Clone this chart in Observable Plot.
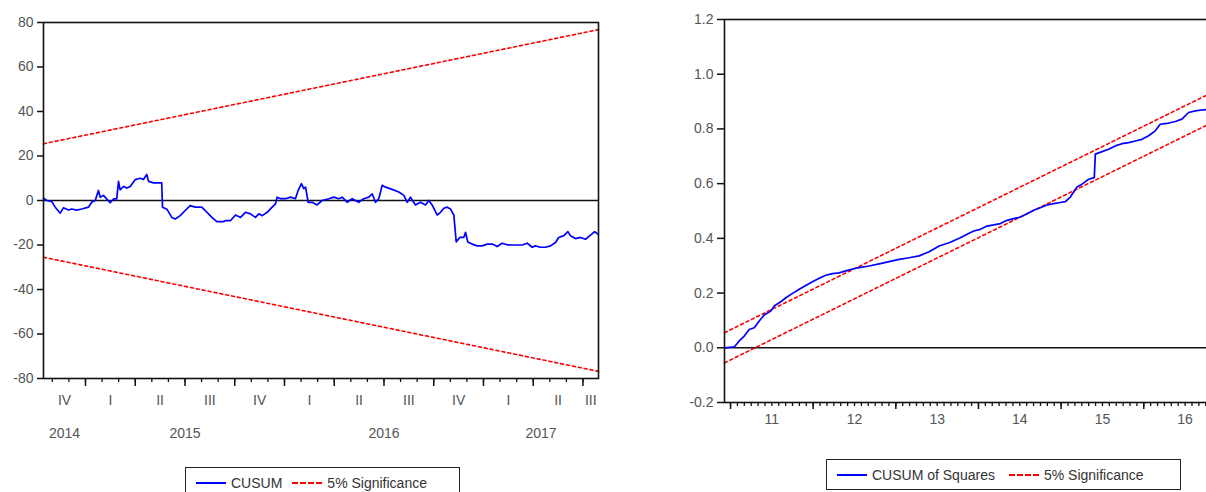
<!DOCTYPE html>
<html>
<head>
<meta charset="utf-8">
<script src="https://cdn.jsdelivr.net/npm/d3@7"></script>
<script src="https://cdn.jsdelivr.net/npm/@observablehq/plot@0.6"></script>
<style>
html, body { margin: 0; padding: 0; background: #fff; overflow: hidden; }
#wrap { position: relative; width: 1206px; height: 492px; overflow: hidden; background: #fff;
  font-family: "Liberation Sans", Arial, sans-serif; }
#left { position: absolute; left: 0; top: 0; width: 620px; height: 450px; }
#right { position: absolute; left: 640px; top: 0; width: 648px; height: 450px; }
#wrap svg { max-width: none !important; height: 450px !important; }
.legend { position: absolute; box-sizing: border-box; border: 1.5px solid #222; background: #fff;
  display: flex; align-items: center; font-size: 14px; color: #333; white-space: nowrap; }
.legend .sw { display: inline-block; width: 30px; height: 0; margin: 0 5px 0 10px; }
.legend .blue { border-top: 2px solid #0000ff; }
.legend .red { border-top: 2px dashed #ff0000; }
</style>
</head>
<body>
<div id="wrap">
  <div id="left"></div>
  <div id="right"></div>
  <div class="legend" style="left:185px; top:467px; width:275px; height:32px;">
    <span class="sw blue"></span><span>CUSUM</span>
    <span class="sw red"></span><span>5% Significance</span>
  </div>
  <div class="legend" style="left:826px; top:459px; width:355px; height:31px;">
    <span class="sw blue"></span><span>CUSUM of Squares</span>
    <span class="sw red" style="margin-left:14px"></span><span>5% Significance</span>
  </div>
</div>
<script>
// ---------- Left panel: CUSUM (time as decimal year) ----------
const cusumT = [2014.789, 2014.806, 2014.831, 2014.848, 2014.873, 2014.889, 2014.915, 2014.931, 2014.956, 2014.981,
  2015.015, 2015.032, 2015.049, 2015.065, 2015.074, 2015.090, 2015.107, 2015.124, 2015.141, 2015.157,
  2015.166, 2015.174, 2015.191, 2015.208, 2015.225, 2015.250, 2015.275, 2015.291, 2015.308, 2015.317,
  2015.342, 2015.383, 2015.387, 2015.409, 2015.434, 2015.451, 2015.476, 2015.501, 2015.526, 2015.551,
  2015.584, 2015.602, 2015.635, 2015.660, 2015.693, 2015.704, 2015.729, 2015.754, 2015.779, 2015.804,
  2015.829, 2015.854, 2015.871, 2015.888, 2015.913, 2015.938, 2015.955, 2015.963, 2015.980, 2016.005,
  2016.030, 2016.055, 2016.069, 2016.085, 2016.097, 2016.106, 2016.119, 2016.139, 2016.164, 2016.189,
  2016.223, 2016.248, 2016.273, 2016.290, 2016.315, 2016.340, 2016.373, 2016.398, 2016.424, 2016.441,
  2016.457, 2016.474, 2016.491, 2016.508, 2016.541, 2016.574, 2016.600, 2016.617, 2016.633, 2016.658,
  2016.683, 2016.709, 2016.725, 2016.742, 2016.767, 2016.784, 2016.801, 2016.818, 2016.834, 2016.851,
  2016.863, 2016.881, 2016.901, 2016.910, 2016.921, 2016.943, 2016.968, 2016.993, 2017.019, 2017.044,
  2017.069, 2017.094, 2017.119, 2017.144, 2017.169, 2017.194, 2017.220, 2017.245, 2017.261, 2017.286,
  2017.312, 2017.337, 2017.362, 2017.378, 2017.404, 2017.424, 2017.437, 2017.462, 2017.487, 2017.513,
  2017.538, 2017.559, 2017.573];
const cusumV = [1, 0, -0.5, -3, -5.7, -3.3, -4.3, -3.8, -4.3, -3.8,
  -3, -0.7, 0, 4.5, 1.5, 2.3, 0.7, -1, 0.7, 0.7,
  8.6, 4.8, 6.3, 5.6, 6.3, 9.4, 10, 9.4, 11.7, 8.6,
  7.9, 7.9, -3, -3.9, -7.6, -8.3, -6.8, -4.5, -2.3, -3,
  -3, -4.5, -7.6, -9.5, -9.5, -9, -9, -6.5, -7.6, -5.3,
  -6, -7.6, -6, -6.8, -5.3, -3, -1.5, 1.5, 0.8, 0.8,
  1.5, 0.8, 4.6, 7.6, 5.3, 6, -0.8, -0.8, -2, 0,
  0.8, 1.5, 0.8, 1.5, -0.8, 0.8, -0.8, 0.8, 1.5, 3,
  -0.8, 0.8, 6.8, 6, 5, 3.8, 2.3, -0.8, 1.5, -2,
  -0.8, -2, 0, -2, -6.5, -5.3, -3.5, -3, -3.8, -6.5,
  -18.6, -16.6, -16.6, -14.3, -18.6, -19.6, -20.4, -20.4, -19.6, -19.6,
  -20.7, -19.2, -19.9, -20, -20, -20, -19.2, -21, -20.4, -21,
  -21, -20.4, -18.9, -16.6, -15.8, -14, -15.8, -17.1, -16.6, -17.4,
  -15.6, -14, -15];
const cusumSigT = [2014.789, 2017.578];
const cusumSigUpper = [25.5, 76.8];
const cusumSigLower = [-25.5, -76.8];
const leftDomain = [2014.789, 2017.578];
const leftYTicks = [-80, -60, -40, -20, 0, 20, 40, 60, 80];
const quarterLabels = ["IV", "I", "II", "III", "IV", "I", "II", "III", "IV", "I", "II", "III"];
const quarterStarts = [2014.75, 2015, 2015.25, 2015.5, 2015.75, 2016, 2016.25, 2016.5, 2016.75, 2017, 2017.25, 2017.5];
const leftYearLabels = ["2014", "2015", "2016", "2017"];
const leftYearStarts = [2014, 2015, 2016, 2017];

// ---------- Right panel: CUSUM of Squares ----------
const sqT = [2010.927, 2011.045, 2011.105, 2011.166, 2011.226, 2011.287, 2011.347, 2011.407, 2011.487, 2011.528,
  2011.608, 2011.669, 2011.746, 2011.831, 2011.911, 2011.992, 2012.073, 2012.152, 2012.233, 2012.314,
  2012.394, 2012.475, 2012.556, 2012.677, 2012.798, 2012.919, 2013.040, 2013.161, 2013.282, 2013.403,
  2013.524, 2013.645, 2013.781, 2013.862, 2013.942, 2014.023, 2014.104, 2014.184, 2014.265, 2014.346,
  2014.426, 2014.507, 2014.588, 2014.667, 2014.748, 2014.829, 2014.909, 2014.990, 2015.051, 2015.111,
  2015.192, 2015.253, 2015.333, 2015.401, 2015.414, 2015.495, 2015.574, 2015.655, 2015.736, 2015.816,
  2015.897, 2015.978, 2016.058, 2016.139, 2016.199, 2016.280, 2016.381, 2016.462, 2016.542, 2016.623,
  2016.724, 2016.805];
const sqV = [0, 0.003, 0.025, 0.043, 0.067, 0.073, 0.098, 0.12, 0.134, 0.153,
  0.168, 0.183, 0.198, 0.214, 0.228, 0.241, 0.254, 0.265, 0.271, 0.274,
  0.281, 0.288, 0.293, 0.299, 0.307, 0.315, 0.323, 0.329, 0.336, 0.351,
  0.372, 0.384, 0.402, 0.415, 0.427, 0.433, 0.445, 0.449, 0.454, 0.466,
  0.472, 0.478, 0.49, 0.503, 0.512, 0.522, 0.527, 0.531, 0.534, 0.551,
  0.588, 0.598, 0.616, 0.622, 0.708, 0.717, 0.726, 0.738, 0.746, 0.75,
  0.756, 0.762, 0.775, 0.793, 0.817, 0.82, 0.827, 0.836, 0.86, 0.866,
  0.87, 0.872];
const sqSigT = [2010.927, 2016.805];
const sqSigUpper = [0.055, 0.93];
const sqSigLower = [-0.055, 0.82];
const rightDomain = [2010.927, 2017.63];
const rightYTicks = [-0.2, 0.0, 0.2, 0.4, 0.6, 0.8, 1.0, 1.2];
const rightYearLabels = ["11", "12", "13", "14", "15", "16"];
const rightYearStarts = [2011, 2012, 2013, 2014, 2015, 2016, 2017];

// ---------- helpers (tick layout) ----------
const FONT = "Liberation Sans, Arial, sans-serif";
const blue = "#0000ff", red = "#ff0000", ink = "#111", gray = "#555";
function monthTicks(domain) {
  const out = [];
  for (let k = Math.ceil(domain[0] * 12); k / 12 <= domain[1]; k++) out.push(k / 12);
  return out;
}
function visibleCenters(starts, width, domain) {
  return starts.map(s => (Math.max(s, domain[0]) + Math.min(s + width, domain[1])) / 2);
}

// ---------- Left plot ----------
const qStartsIn = quarterStarts.filter(q => q >= leftDomain[0] && q <= leftDomain[1]);
const left = Plot.plot({
  width: 620, height: 450,
  marginLeft: 43, marginRight: 22, marginTop: 22, marginBottom: 72,
  x: {domain: leftDomain},
  y: {domain: [-80, 80]},
  style: {fontFamily: FONT, fontSize: "14px", background: "white", overflow: "visible"},
  marks: [
    Plot.ruleY([0], {stroke: ink, strokeWidth: 1.6}),
    Plot.line(cusumSigUpper, {x: cusumSigT, y: cusumSigUpper, stroke: red, strokeWidth: 1.6, strokeDasharray: "3,3"}),
    Plot.line(cusumSigLower, {x: cusumSigT, y: cusumSigLower, stroke: red, strokeWidth: 1.6, strokeDasharray: "3,3"}),
    Plot.line(cusumV, {x: cusumT, y: cusumV, stroke: blue, strokeWidth: 1.7}),
    Plot.frame({stroke: ink, strokeWidth: 1.6}),
    Plot.axisY({ticks: leftYTicks, tickSize: 6, tickPadding: 4, stroke: ink, strokeWidth: 1.5, fill: gray,
      fontSize: 14, label: null, tickFormat: d => String(d)}),
    Plot.axisX({ticks: monthTicks(leftDomain), tickSize: 4, stroke: ink, strokeWidth: 1.3, tickFormat: () => "", label: null}),
    Plot.axisX({ticks: qStartsIn, tickSize: 8, stroke: ink, strokeWidth: 1.5, tickFormat: () => "", label: null}),
    Plot.text(quarterLabels, {x: visibleCenters(quarterStarts, 0.25, leftDomain), text: quarterLabels,
      frameAnchor: "bottom", dy: 26, fill: gray, fontSize: 14}),
    Plot.text(leftYearLabels, {x: visibleCenters(leftYearStarts, 1, leftDomain), text: leftYearLabels,
      frameAnchor: "bottom", dy: 59, fill: gray, fontSize: 14})
  ]
});
document.getElementById("left").appendChild(left);

// ---------- Right plot ----------
const yStartsIn = rightYearStarts.filter(q => q >= rightDomain[0] && q <= rightDomain[1]);
const right = Plot.plot({
  width: 648, height: 450,
  marginLeft: 84, marginRight: 10, marginTop: 19, marginBottom: 48,
  x: {domain: rightDomain},
  y: {domain: [-0.2, 1.2]},
  style: {fontFamily: FONT, fontSize: "14px", background: "white", overflow: "visible"},
  marks: [
    Plot.ruleY([0], {stroke: ink, strokeWidth: 1.6}),
    Plot.line(sqSigUpper, {x: sqSigT, y: sqSigUpper, stroke: red, strokeWidth: 1.6, strokeDasharray: "3,3"}),
    Plot.line(sqSigLower, {x: sqSigT, y: sqSigLower, stroke: red, strokeWidth: 1.6, strokeDasharray: "3,3"}),
    Plot.line(sqV, {x: sqT, y: sqV, stroke: blue, strokeWidth: 1.7}),
    Plot.frame({stroke: ink, strokeWidth: 1.6}),
    Plot.axisY({ticks: rightYTicks, tickSize: 7, tickPadding: 4, stroke: ink, strokeWidth: 1.5, fill: gray,
      fontSize: 14, label: null, tickFormat: d => d.toFixed(1)}),
    Plot.axisX({ticks: monthTicks(rightDomain), tickSize: 4, stroke: ink, strokeWidth: 1.3, tickFormat: () => "", label: null}),
    Plot.axisX({ticks: yStartsIn, tickSize: 7, stroke: ink, strokeWidth: 1.5, tickFormat: () => "", label: null}),
    Plot.text(rightYearLabels, {x: visibleCenters(rightYearStarts.slice(0, rightYearLabels.length), 1, rightDomain),
      text: rightYearLabels, frameAnchor: "bottom", dy: 21, fill: gray, fontSize: 14})
  ]
});
document.getElementById("right").appendChild(right);
</script>
</body>
</html>
